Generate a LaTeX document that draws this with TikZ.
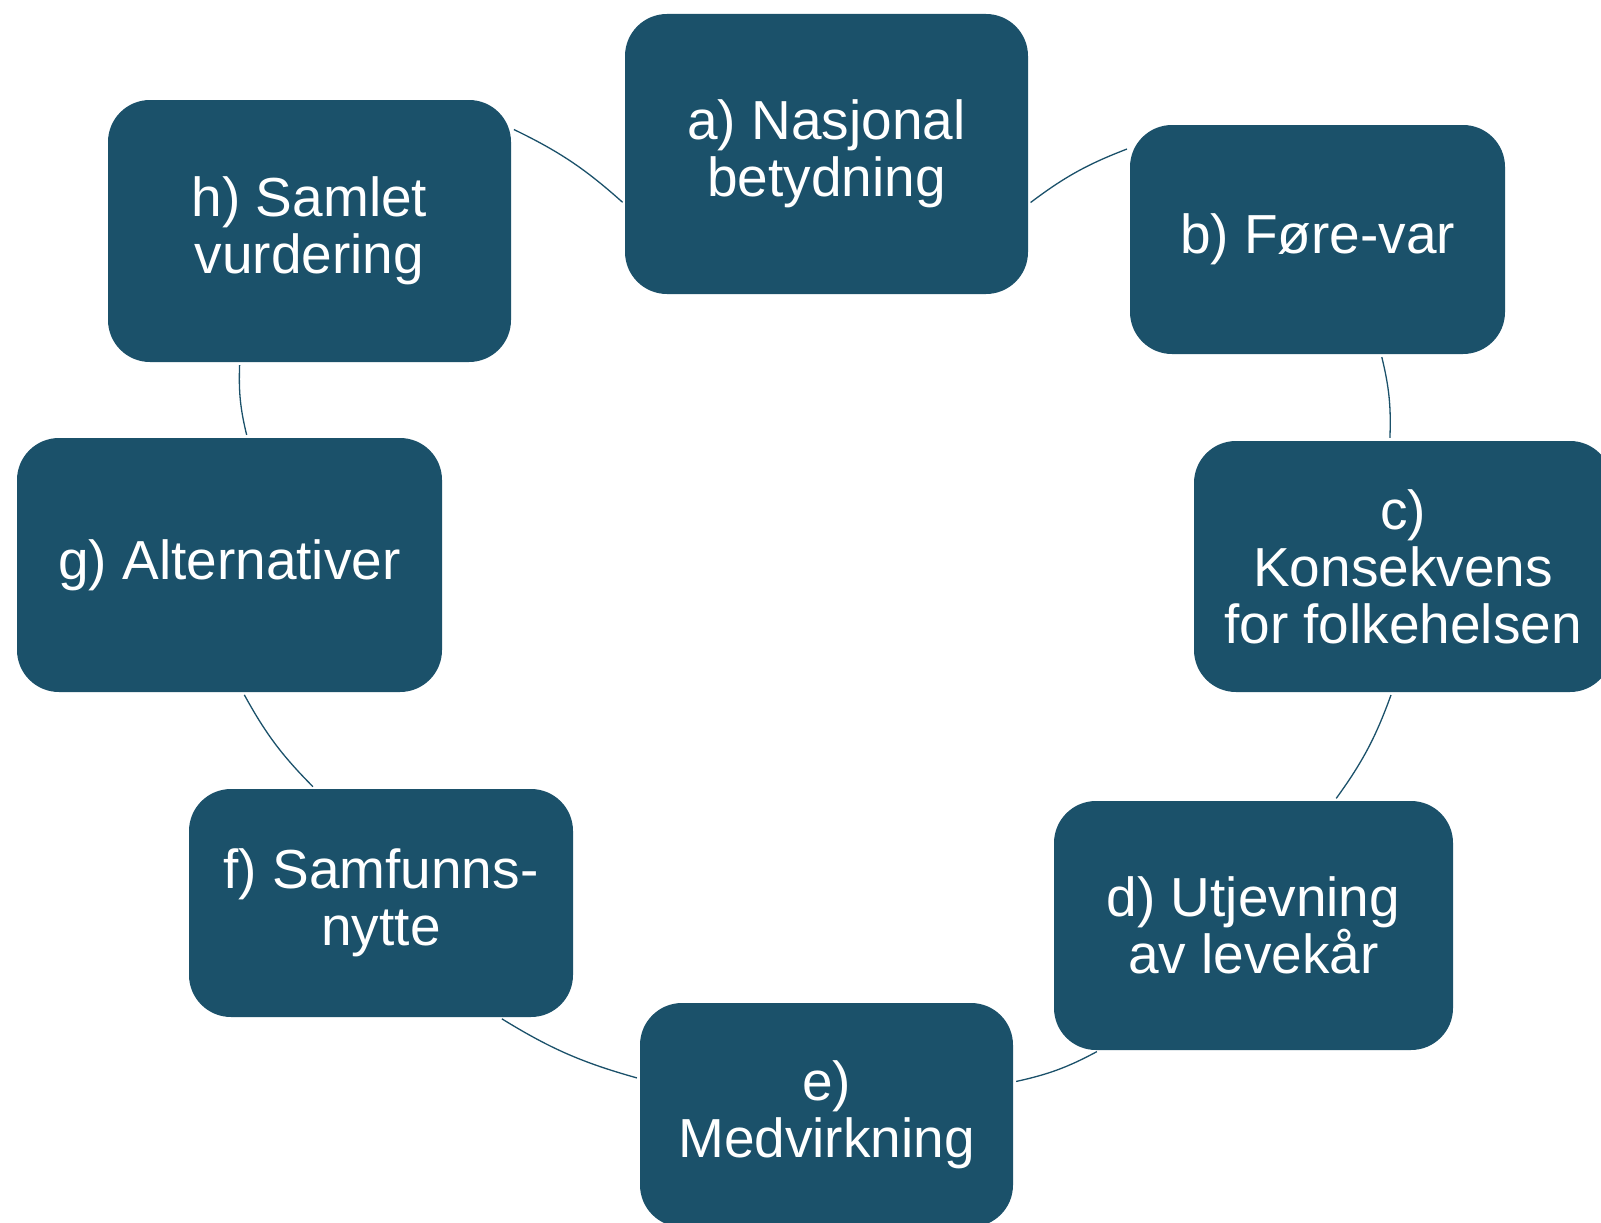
\documentclass[tikz,border=0pt]{standalone}
\usepackage{fontspec}
\setmainfont{Liberation Sans}
\definecolor{petrol}{RGB}{27,81,106}

\begin{document}
\begin{tikzpicture}[x=1pt, y=-1pt,
  box node/.style={fill=petrol, rounded corners=42pt, text=white, align=center,
    inner sep=0pt, font=\fontsize{55}{57}\selectfont},
  link/.style={draw=petrol, line width=1.3pt, shorten <=3pt, shorten >=3pt}]
\useasboundingbox (0,0) rectangle (1601,1223);
\node[box node, minimum width=403, minimum height=280] (a) at (826.5,154)  {a) Nasjonal\\betydning};
\node[box node, minimum width=375, minimum height=229] (b) at (1317.5,239.5) {b) Føre-var};
\node[box node, minimum width=418, minimum height=251] (c) at (1403,566.5) {c)\\Konsekvens\\for folkehelsen};
\node[box node, minimum width=399, minimum height=249] (d) at (1253.5,925.5) {d) Utjevning\\av levekår};
\node[box node, minimum width=373, minimum height=224] (e) at (826.5,1115) {e)\\Medvirkning};
\node[box node, minimum width=384, minimum height=228] (f) at (381,903)    {f) Samfunns-\\nytte};
\node[box node, minimum width=425, minimum height=254] (g) at (229.5,565)  {g) Alternativer};
\node[box node, minimum width=403, minimum height=262] (h) at (309.5,231)  {h) Samlet\\vurdering};
\path
(h.27)    edge[link, bend left=8] (a.194)
(a.-14)   edge[link, bend left=8] (b.154.5)
(b.-61.4) edge[link, bend left=8] (c.96.8)
(c.265)   edge[link, bend left=8] (d.57.8)
(d.219.6) edge[link, bend left=8] (e.10)
(e.169.7) edge[link, bend left=8] (f.-44.5)
(f.120.4) edge[link, bend left=8] (g.-84.4)
(g.82.6)  edge[link, bend left=8] (h.242.7);
\end{tikzpicture}
\end{document}
